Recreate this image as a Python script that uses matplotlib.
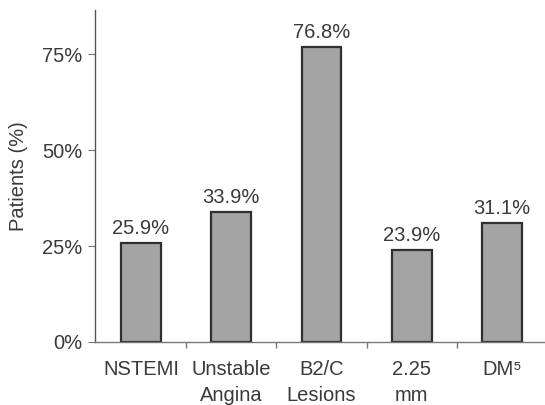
import matplotlib
matplotlib.use("Agg")
import matplotlib.pyplot as plt

categories = ["NSTEMI", "Unstable\nAngina", "B2/C\nLesions", "2.25\nmm", "DM\u2075"]
values = [25.9, 33.9, 76.8, 23.9, 31.1]
value_labels = ["25.9%", "33.9%", "76.8%", "23.9%", "31.1%"]
yticks = [0, 25, 50, 75]
ytick_labels = ["0%", "25%", "50%", "75%"]

plt.rcParams['font.family'] = ['Liberation Sans', 'DejaVu Sans']
txt = '#3a3a3a'
fs = 14.5

fig = plt.figure(figsize=(5.45, 4.05), dpi=100)
ax = fig.add_axes([0.1734, 0.1556, 0.8266, 0.8198])

x = list(range(len(categories)))
ax.bar(x, values, width=0.44, color='#a4a4a4', edgecolor='#303030', linewidth=1.6)

for xi, v, lab in zip(x, values, value_labels):
    ax.annotate(lab, (xi, v), xytext=(0, 6.5), textcoords='offset points',
                ha='center', va='baseline', fontsize=fs, color=txt)

ax.set_xlim(-0.515, 4.476)
ax.set_ylim(0, 86.5)
ax.set_yticks(yticks)
ax.set_yticklabels(ytick_labels, fontsize=fs, color=txt)
ax.set_xticks(x)
ax.set_xticklabels(categories, fontsize=fs, color=txt, linespacing=1.45)
ax.set_xticks([0.5, 1.5, 2.5, 3.5], minor=True)
ax.tick_params(axis='x', which='major', length=0, pad=13)
ax.tick_params(axis='x', which='minor', length=4, color='#777777', width=1)
ax.tick_params(axis='y', length=5, color='#777777', pad=4)
ax.set_ylabel("Patients (%)", fontsize=fs, color=txt, labelpad=10)

ax.spines['top'].set_visible(False)
ax.spines['right'].set_visible(False)
ax.spines['left'].set_color('#555555')
ax.spines['bottom'].set_color('#777777')
ax.spines['left'].set_linewidth(1.0)
ax.spines['bottom'].set_linewidth(1.0)

fig.savefig("out.png", dpi=100)
